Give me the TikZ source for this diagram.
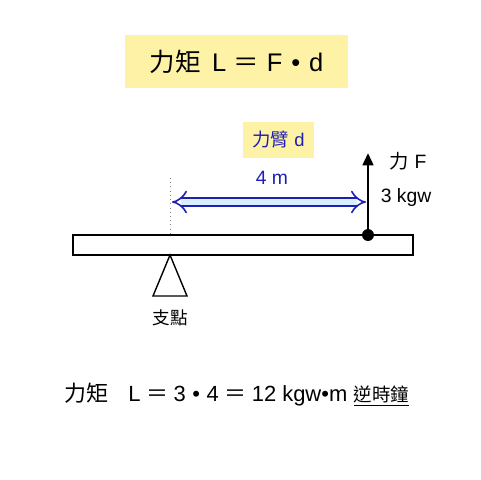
\documentclass[tikz,border=0pt]{standalone}
\usepackage{fontspec}
\usepackage{xcolor}
\setmainfont{Liberation Sans}
\newfontfamily\cjk{Noto Sans CJK TC}
\usetikzlibrary{arrows.meta}
\definecolor{notepaper}{RGB}{253,242,165}
\definecolor{armblue}{RGB}{30,30,180}
\definecolor{armfill}{RGB}{215,240,255}

\begin{document}
\begin{tikzpicture}[x=0.02cm, y=-0.02cm,
	notebox/.style={fill=notepaper, inner sep=0pt},
	label12/.style={font=\fontsize{11}{13}\selectfont}]
	\useasboundingbox (0,0) rectangle (480,480);
	% title
	\node[notebox, minimum width=4.46cm, minimum height=1.06cm] (title) at (236.5,61.5)
		{\fontsize{14.5}{16}\selectfont{\cjk 力矩}\hspace{0.45em}L\hspace{0.3em}{\cjk ＝}\hspace{0.3em}F\hspace{0.35em}•\hspace{0.35em}d};
	% beam and pivot
	\node[draw, thick, minimum width=6.8cm, minimum height=0.4cm, inner sep=0pt] (beam) at (243,245) {};
	\coordinate (pivot) at (170,255);
	\draw[thick, fill=white] (pivot) -- (153,296) -- (187,296) -- cycle;
	\node[font=\fontsize{10}{12}\selectfont\cjk] (fulcrum) at (170,318) {支點};
	\coordinate (dottop) at (170,178);
	\draw[gray, dotted] (dottop) -- (170,235);
	% lever arm
	\node[notebox, minimum width=1.42cm, minimum height=0.72cm, text=armblue] (arm) at (278.5,140)
		{\fontsize{10.5}{12}\selectfont{\cjk 力臂} d};
	\node[label12, text=armblue] (armlen) at (272,178) {4 m};
	\coordinate (armleft) at (172,202);
	\coordinate (armright) at (366,202);
	\draw[armblue, line width=0.9pt, double=armfill, double distance=3.6pt, {Implies}-{Implies}] (armleft) -- (armright);
	% force
	\fill (368,235) circle (3.4pt) coordinate (grip);
	\coordinate (forcetop) at (368,153);
	\draw[line width=1.6pt, -{Triangle[length=7pt,width=6pt]}] (grip) -- (forcetop);
	\node[label12] (force) at (408,161) {{\cjk 力}\hspace{0.3em}F};
	\node[label12] (forceval) at (406,198) {3 kgw};
	% result
	\node[font=\fontsize{12.5}{14}\selectfont] (result) at (237,395)
		{{\cjk 力矩}\hspace{0.9em}L\hspace{0.25em}{\cjk ＝}\hspace{0.25em}3\hspace{0.3em}•\hspace{0.3em}4\hspace{0.25em}{\cjk ＝}\hspace{0.25em}12 kgw•m\hspace{0.3em}{\fontsize{10.5}{12}\selectfont\cjk\underline{逆時鐘}}};
\end{tikzpicture}
\end{document}
